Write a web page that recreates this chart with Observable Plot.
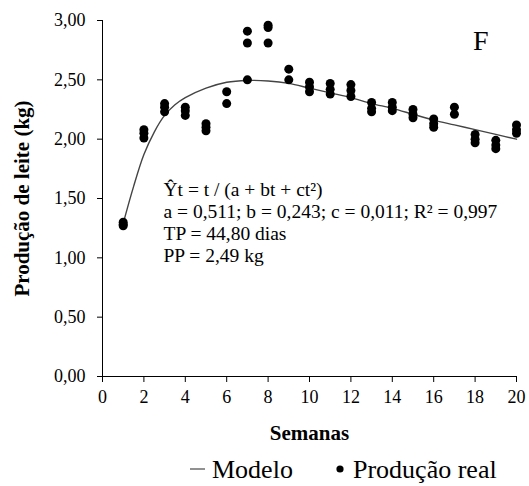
<!DOCTYPE html>
<html><head><meta charset="utf-8">
<script src="https://cdn.jsdelivr.net/npm/d3@7"></script>
<script src="https://cdn.jsdelivr.net/npm/@observablehq/plot@0.6"></script>
<style>
body{margin:0;background:#fff;}
#wrap{position:relative;width:529px;height:486px;color:#000;overflow:hidden;}
#wrap svg{display:block;}
g[aria-label="x-axis label"] text, g[aria-label="y-axis label"] text{font-weight:bold;font-size:21px;}
</style></head>
<body>
<div id="wrap">
  <div id="chart"></div>
  <div id="legend"></div>
</div>
<script>
// Observed milk production (kg) per week
const obsWeek = [1,1,1, 2,2,2, 3,3,3, 4,4,4, 5,5,5, 6,6, 7,7,7, 8,8,8, 9,9, 10,10,10, 11,11,11, 12,12,12, 13,13,13, 14,14,14, 15,15,15, 16,16,16, 17,17, 18,18,18, 19,19,19, 20,20,20];
const obsMilk = [1.30,1.28,1.27, 2.08,2.05,2.01, 2.30,2.27,2.23, 2.27,2.24,2.20, 2.13,2.10,2.07, 2.40,2.30, 2.91,2.81,2.50, 2.96,2.94,2.81, 2.59,2.50, 2.48,2.44,2.40, 2.47,2.42,2.38, 2.46,2.41,2.36, 2.31,2.26,2.23, 2.31,2.27,2.24, 2.25,2.21,2.18, 2.17,2.13,2.10, 2.27,2.21, 2.04,2.00,1.97, 1.99,1.95,1.92, 2.12,2.08,2.05];
// Fitted model curve
const modelWeek = [1, 1.5, 2, 2.5, 3, 3.5, 4, 5, 6, 7, 8, 9, 10, 11, 12, 13, 14, 15, 16, 17, 18, 19, 20];
const modelMilk = [1.29, 1.60, 1.87, 2.06, 2.20, 2.29, 2.35, 2.43, 2.48, 2.495, 2.49, 2.47, 2.43, 2.39, 2.35, 2.30, 2.26, 2.21, 2.16, 2.12, 2.08, 2.04, 2.00];
const xTicks = [0,2,4,6,8,10,12,14,16,18,20];
const yTicks = [0,0.5,1,1.5,2,2.5,3];
const panelLabel = "F";
const equationText = "Ŷt = t / (a + bt + ct²)\na = 0,511; b = 0,243; c = 0,011; R² = 0,997\nTP = 44,80 dias\nPP = 2,49 kg";
const legendLabels = ["Modelo", "Produção real"];

const serif = '"Liberation Serif","Times New Roman",serif';
const obs = obsWeek.map((w,i)=>({w, v: obsMilk[i]}));
const model = modelWeek.map((w,i)=>({w, v: modelMilk[i]}));
const fmt = d => d3.format(".2f")(d).replace(".", ",");

const chart = Plot.plot({
  width: 529, height: 452,
  marginLeft: 102, marginRight: 13, marginTop: 20, marginBottom: 76,
  style: {fontFamily: serif, fontSize: "18px", color: "#000", background: "#fff", overflow: "visible"},
  x: {domain: [0, 20]},
  y: {domain: [0, 3]},
  marks: [
    Plot.axisX({ticks: xTicks, tickSize: 6, tickPadding: 8, fontSize: 18, label: "Semanas", labelAnchor: "center", labelArrow: "none", labelOffset: 63}),
    Plot.axisY({ticks: yTicks, tickSize: 5, tickPadding: 12, fontSize: 18, tickFormat: fmt, label: "Produção de leite (kg)", labelAnchor: "center", labelArrow: "none", labelOffset: 88}),
    Plot.ruleY([0], {stroke: "#000", strokeWidth: 1}),
    Plot.ruleX([0], {stroke: "#000", strokeWidth: 1}),
    Plot.line(model, {x: "w", y: "v", curve: "catmull-rom", stroke: "#444", strokeWidth: 1.4}),
    Plot.dot(obs, {x: "w", y: "v", r: 4.5, fill: "#000", stroke: "none"}),
    Plot.text([equationText], {frameAnchor: "top-left", textAnchor: "start", lineAnchor: "top", dx: 61, dy: 160, fontSize: 19.5, lineHeight: 1.13, fill: "#000"}),
    Plot.text([panelLabel], {frameAnchor: "top-right", textAnchor: "end", lineAnchor: "top", dx: -28, dy: 10, fontSize: 28, fill: "#000"})
  ]
});
document.getElementById("chart").appendChild(chart);

// Legend below the chart (SVG so the serif font is used)
const lg = d3.select("#legend").append("svg")
  .attr("width", 529).attr("height", 34)
  .style("font-family", serif).style("font-size", "26px");
lg.append("line").attr("x1", 190).attr("x2", 205).attr("y1", 17).attr("y2", 17)
  .attr("stroke", "#555").attr("stroke-width", 1.3);
lg.append("text").attr("x", 212).attr("y", 26).text(legendLabels[0]);
lg.append("circle").attr("cx", 340).attr("cy", 17).attr("r", 3.6).attr("fill", "#000");
lg.append("text").attr("x", 353).attr("y", 26).text(legendLabels[1]);
</script>
</body></html>
